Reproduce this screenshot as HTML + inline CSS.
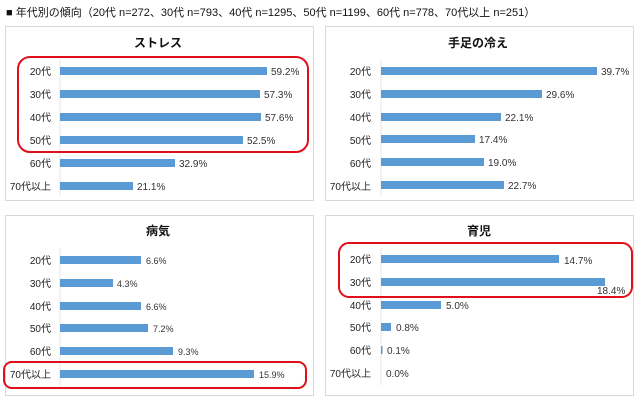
<!DOCTYPE html>
<html><head><meta charset="utf-8"><style>
body{margin:0;background:#fff;}
svg text{font-family:"Liberation Sans","Noto Sans CJK JP",sans-serif;}
</style></head><body>
<svg width="640" height="405" xmlns="http://www.w3.org/2000/svg">
<rect width="640" height="405" fill="#fff"/>
<text x="6" y="16" font-size="11" fill="#111">■ 年代別の傾向（20代 n=272、30代 n=793、40代 n=1295、50代 n=1199、60代 n=778、70代以上 n=251）</text>
<g fill="none" stroke="#d9d9d9" stroke-width="1">
<rect x="5.5" y="26.5" width="308" height="174"/>
<rect x="325.5" y="26.5" width="308" height="174"/>
<rect x="5.5" y="215.5" width="308" height="180"/>
<rect x="325.5" y="215.5" width="308" height="180"/>
</g>
<g font-size="12" font-weight="bold" fill="#111" text-anchor="middle">
<text x="158" y="47">ストレス</text>
<text x="478" y="47">手足の冷え</text>
<text x="158" y="235">病気</text>
<text x="479" y="235">育児</text>
</g>
<g stroke="#e4e4e4"><line x1="60" y1="60" x2="60" y2="196"/><line x1="381" y1="60" x2="381" y2="196"/><line x1="60" y1="248" x2="60" y2="385"/><line x1="381" y1="248" x2="381" y2="385"/></g>
<g fill="#5b9bd5">
<rect x="60" y="67" width="207" height="8"/><rect x="60" y="90" width="200" height="8"/><rect x="60" y="113" width="201" height="8"/><rect x="60" y="136" width="183" height="8"/><rect x="60" y="159" width="115" height="8"/><rect x="60" y="182" width="73" height="8"/>
<rect x="381" y="67" width="216" height="8"/><rect x="381" y="90" width="161" height="8"/><rect x="381" y="113" width="120" height="8"/><rect x="381" y="135" width="94" height="8"/><rect x="381" y="158" width="103" height="8"/><rect x="381" y="181" width="123" height="8"/>
<rect x="60" y="256" width="81" height="8"/><rect x="60" y="279" width="53" height="8"/><rect x="60" y="302" width="81" height="8"/><rect x="60" y="324" width="88" height="8"/><rect x="60" y="347" width="113" height="8"/><rect x="60" y="370" width="194" height="8"/>
<rect x="381" y="255" width="178" height="8"/><rect x="381" y="278" width="224" height="8"/><rect x="381" y="301" width="60" height="8"/><rect x="381" y="323" width="10" height="8"/><rect x="381" y="346" width="1.5" height="8"/>
</g>
<g font-size="10" fill="#222" text-anchor="end">
<text x="51" y="75">20代</text><text x="51" y="98">30代</text><text x="51" y="121">40代</text><text x="51" y="144">50代</text><text x="51" y="167">60代</text><text x="51" y="190">70代以上</text>
<text x="371" y="75">20代</text><text x="371" y="98">30代</text><text x="371" y="121">40代</text><text x="371" y="144">50代</text><text x="371" y="167">60代</text><text x="371" y="190">70代以上</text>
<text x="51" y="264">20代</text><text x="51" y="287">30代</text><text x="51" y="310">40代</text><text x="51" y="332">50代</text><text x="51" y="355">60代</text><text x="51" y="378">70代以上</text>
<text x="371" y="263">20代</text><text x="371" y="286">30代</text><text x="371" y="309">40代</text><text x="371" y="331">50代</text><text x="371" y="354">60代</text><text x="371" y="377">70代以上</text>
</g>
<g font-size="10" fill="#333">
<text x="271" y="75">59.2%</text><text x="264" y="98">57.3%</text><text x="265" y="121">57.6%</text><text x="247" y="144">52.5%</text><text x="179" y="167">32.9%</text><text x="137" y="190">21.1%</text>
<text x="601" y="75">39.7%</text><text x="546" y="98">29.6%</text><text x="505" y="121">22.1%</text><text x="479" y="143">17.4%</text><text x="488" y="166">19.0%</text><text x="508" y="189">22.7%</text>
<text x="146" y="264" font-size="9">6.6%</text><text x="117" y="287" font-size="9">4.3%</text><text x="146" y="310" font-size="9">6.6%</text><text x="153" y="332" font-size="9">7.2%</text><text x="178" y="355" font-size="9">9.3%</text><text x="259" y="378" font-size="9">15.9%</text>
<text x="564" y="264">14.7%</text><text x="597" y="294">18.4%</text><text x="446" y="309">5.0%</text><text x="396" y="331">0.8%</text><text x="387" y="354">0.1%</text><text x="386" y="377">0.0%</text>
</g>
<g fill="none" stroke="#e0101a" stroke-width="2">
<rect x="18" y="57" width="290" height="95" rx="12"/>
<rect x="4" y="362" width="302" height="26" rx="8"/>
<rect x="339" y="243" width="293" height="54" rx="10"/>
</g>
</svg>
</body></html>
